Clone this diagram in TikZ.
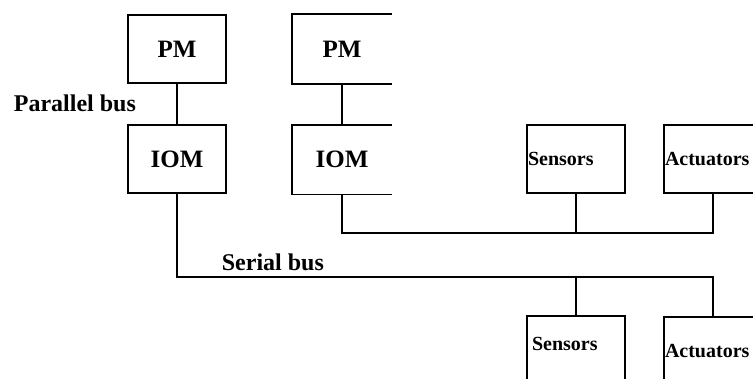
\documentclass[tikz,border=0pt]{standalone}
\usepackage{fontspec}
\setmainfont{Liberation Serif}
\begin{document}
\begin{tikzpicture}[x=1pt,y=-1pt,
  line width=1.8pt,
  box/.style={draw, minimum width=98pt, minimum height=68pt, inner sep=0pt, font=\bfseries\fontsize{25}{25}\selectfont},
  openbox/.style={box, draw=none},
  iobox/.style={box, font=\bfseries\fontsize{20}{20}\selectfont, text width=96pt, align=left, inner xsep=1pt},
  buslabel/.style={anchor=base west, inner sep=0pt, font=\bfseries\fontsize{24}{24}\selectfont}]
\useasboundingbox (0,0) rectangle (753,378);
\clip (0,0) rectangle (753,378);
% left column
\node[box] (pm1) at (177,49) {PM};
\node[box] (iom1) at (177,159) {IOM};
% second column (right edges not drawn)
\node[openbox] (pm2) at (342,49) {PM};
\node[openbox] (iom2) at (342,159.5) {IOM};
\draw (pm2.north east) -- (pm2.north west) -- (pm2.south west) -- (pm2.south east);
\draw (iom2.north east) -- (iom2.north west) -- (iom2.south west) -- (iom2.south east);
% sensors / actuators, upper
\node[iobox] (sens1) at (576,159) {Sensors};
\node[iobox] (act1) at (713,159) {Actuators};
% sensors / actuators, lower
\node[iobox, text width=88pt, inner xsep=5pt, text depth=12pt] (sens2) at (576,350) {Sensors};
\node[iobox] (act2) at (713,351) {Actuators};
% buses
\coordinate (bus1) at (0,233);
\coordinate (bus2) at (0,277);
\draw (pm1.south) -- (iom1.north);
\draw (pm2.south) -- (iom2.north);
\draw (iom2.south) |- (bus1 -| act1.south) -- (act1.south);
\draw (sens1.south) -- (sens1.south |- bus1);
\draw (iom1.south) |- (bus2 -| act2.north) -- (act2.north);
\draw (sens2.north) -- (sens2.north |- bus2);
% labels
\node[buslabel] (par) at (13,111.5) {Parallel bus};
\node[buslabel] (ser) at (221,270) {Serial bus};
\end{tikzpicture}
\end{document}
